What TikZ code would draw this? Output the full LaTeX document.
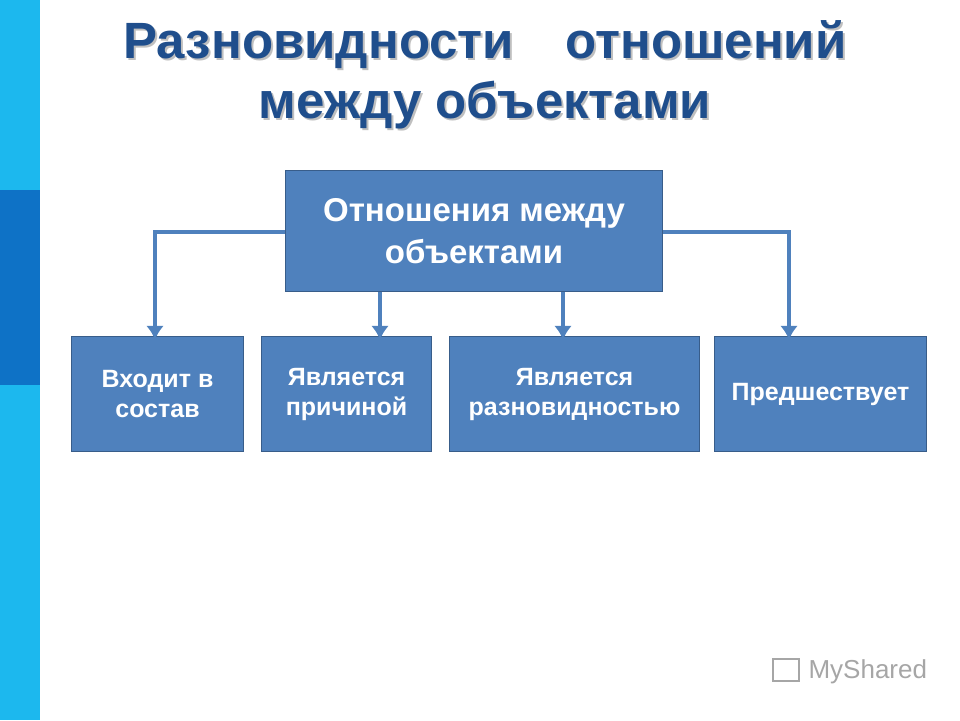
\documentclass[tikz,border=0pt]{standalone}
\usepackage{fontspec}
\setmainfont{Liberation Sans}
\usetikzlibrary{arrows.meta}
\definecolor{boxf}{HTML}{4F81BD}
\definecolor{boxd}{HTML}{385D8A}
\definecolor{titc}{HTML}{1F4E8C}
\definecolor{stripe}{HTML}{1CB8EE}
\definecolor{stripe2}{HTML}{0E72C6}
\tikzset{x=1pt,y=-1pt,
 bx/.style={draw=boxd,line width=1.5pt,fill=boxf,text=white,font=\bfseries,align=center,inner sep=0pt},
 sm/.style={font=\bfseries\fontsize{25}{30}\selectfont},
 con/.style={draw=boxf,line width=4pt,-{Latex[length=14pt,width=18pt]}}}
\begin{document}
\begin{tikzpicture}
\useasboundingbox (0,0) rectangle (960,720);
\fill[stripe] (0,0) rectangle (40,720);
\fill[stripe2] (0,190) rectangle (40,385);
\node[font=\bfseries\fontsize{51}{60}\selectfont,text=gray!50,align=center] at (487,77) {Разновидности\quad отношений\\между объектами};
\node[font=\bfseries\fontsize{51}{60}\selectfont,text=titc,align=center] (t) at (485,75) {Разновидности\quad отношений\\между объектами};
\node[bx,minimum width=377,minimum height=121,font=\bfseries\fontsize{33}{42}\selectfont] (top) at (474,231) {Отношения между\\объектами};
\node[bx,sm,minimum width=172,minimum height=115] (b1) at (157.5,394) {Входит в\\состав};
\node[bx,sm,minimum width=170,minimum height=115] (b2) at (346.5,394) {Является\\причиной};
\node[bx,sm,minimum width=250,minimum height=115] (b3) at (574.5,394) {Является\\разновидностью};
\node[bx,sm,minimum width=212,minimum height=115] (b4) at (820.5,394) {Предшествует};
\draw[con] (top.west|-0,232) -| ([yshift=-4pt]b1.north-|155,0);
\draw[con] (top.east|-0,232) -| ([yshift=-4pt]b4.north-|789,0);
\draw[con] (top.south-|380,0) -- ([yshift=-4pt]b2.north-|380,0);
\draw[con] (top.south-|563,0) -- ([yshift=-4pt]b3.north-|563,0);
\node[font=\fontsize{26}{28}\selectfont,text=gray!70,anchor=west] (wm) at (805,672) {MyShared};
\node[draw=gray!70,line width=2pt,minimum width=26,minimum height=22,inner sep=0pt] (ic) at (786,670) {};
\end{tikzpicture}
\end{document}
